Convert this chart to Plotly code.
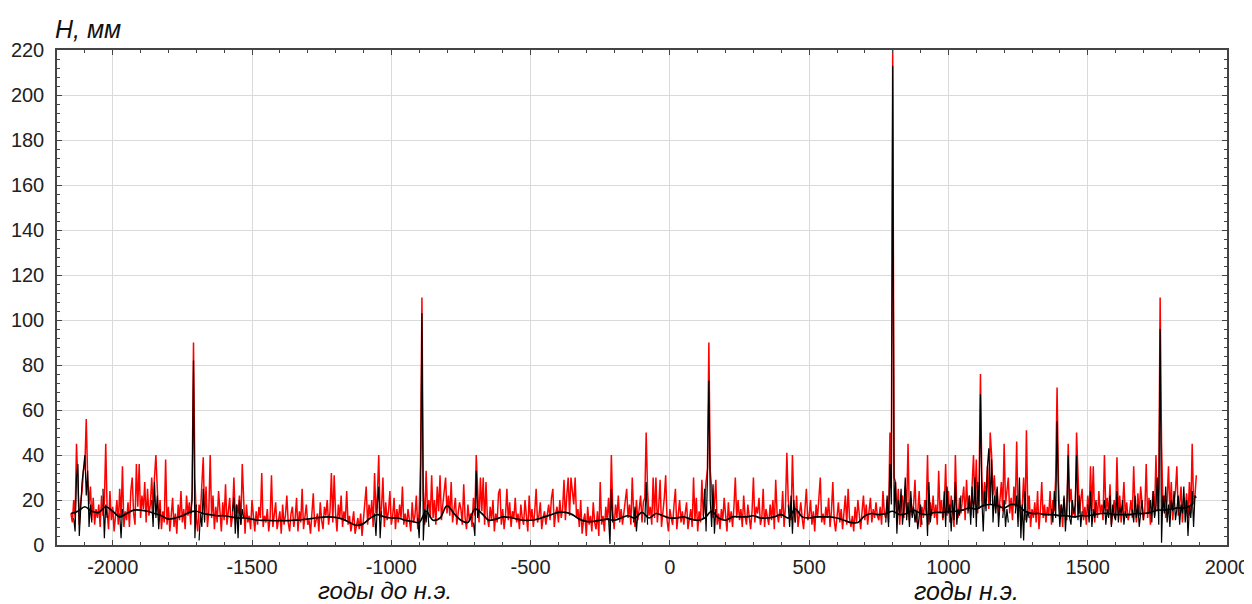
import numpy as np
import plotly.graph_objects as go

# ---------------- data ----------------
# Red series: one value every 5 years, starting in -2150 (rows = centuries)
red_start = -2150
red_step = 5
red_part1 = [  # -2150 .. -1155
    14,10,20,12,45,28,9,19,24,33,35,56,30,18,26,11,21,9,16,12,
    18,8,22,13,19,45,15,7,24,11,17,6,14,20,9,25,12,35,8,15,
    11,19,8,24,30,14,9,36,17,36,12,22,16,28,10,25,13,18,30,16,
    30,40,25,11,20,7,15,10,38,9,17,6,13,21,8,14,5,18,11,24,
    10,16,7,22,13,19,9,25,90,30,12,6,18,14,27,39,11,26,8,15,
    40,12,22,7,17,10,24,14,6,19,11,27,9,15,21,8,13,30,12,18,
    14,22,9,36,16,5,18,10,13,7,20,11,6,15,9,17,12,32,8,13,
    10,16,6,12,31,8,14,19,7,11,15,5,18,9,13,22,10,6,14,17,
    8,12,21,6,15,10,25,7,13,18,9,11,5,16,23,8,12,14,6,19,
    11,7,17,13,20,9,15,32,10,31,14,6,18,12,22,8,15,11,24,9,
]
red_part2 = [  # -1150 .. -155
    13,6,10,15,5,9,12,7,14,4,11,16,26,9,18,12,20,8,32,14,
    22,40,12,17,30,8,19,11,15,24,9,13,21,7,16,10,18,12,26,9,
    14,8,16,11,6,19,10,13,22,7,15,36,110,24,9,33,16,20,12,31,
    12,20,9,26,15,31,11,18,24,30,14,22,13,28,10,17,21,9,15,19,
    16,9,27,12,7,18,11,14,8,21,13,40,25,10,30,15,30,9,28,12,
    8,17,11,20,6,14,10,23,25,9,16,7,13,25,11,19,8,15,12,21,
    10,14,7,18,12,9,20,13,6,22,11,16,8,15,25,10,13,19,7,12,
    15,9,13,18,11,21,25,8,14,17,10,20,12,16,29,11,22,30,13,30,
    24,18,30,12,16,8,20,5,11,14,4,17,9,13,6,19,10,7,15,4,
    28,9,13,6,17,11,21,8,40,15,7,18,12,22,10,16,9,14,19,25,
]
red_part3 = [  # -150 .. 845
    12,18,9,30,14,8,20,11,16,22,10,19,21,50,24,13,17,9,30,12,
    30,10,17,29,8,14,21,31,11,6,16,12,9,18,25,7,13,20,10,15,
    9,14,19,7,12,16,8,30,11,21,6,15,10,29,13,22,28,34,90,33,
    25,12,18,29,9,14,7,16,11,21,13,6,19,10,15,8,17,30,12,20,
    11,16,8,22,13,9,18,12,7,15,30,10,17,14,21,9,12,25,8,16,
    13,9,18,11,20,7,29,14,10,16,12,24,8,17,41,20,15,11,40,18,
    10,22,8,14,19,12,7,16,25,11,13,20,9,15,6,18,12,21,30,10,
    14,9,17,12,21,8,15,28,11,6,13,19,10,16,7,14,22,9,25,12,
    8,13,6,17,10,20,12,7,15,22,11,18,9,14,21,10,16,12,19,13,
    11,17,9,24,14,12,20,10,50,25,220,30,28,13,25,9,19,22,12,26,
]
red_part4 = [  # 850 .. 1890
    16,45,11,21,13,18,29,10,15,24,8,17,12,20,14,40,9,19,13,22,
    12,18,9,33,14,20,11,16,36,13,24,10,22,15,8,40,17,12,21,14,
    19,26,11,29,15,22,13,30,40,18,38,14,27,76,30,17,28,21,35,16,
    50,40,22,31,16,25,13,20,28,15,45,18,24,30,14,21,11,26,17,46,
    13,20,9,17,30,11,51,14,22,8,16,12,19,10,24,7,15,28,12,18,
    10,17,13,24,9,20,15,30,70,28,12,18,8,21,14,11,45,19,25,13,
    16,12,50,30,14,20,25,11,17,9,22,13,35,15,35,10,19,12,24,14,
    18,11,40,15,21,13,27,9,16,20,12,39,14,22,10,17,28,13,19,11,
    14,20,12,35,16,10,23,13,26,18,11,15,36,12,21,9,17,24,13,40,
    15,25,110,45,17,22,12,20,35,14,28,11,19,24,35,13,18,26,10,21,
    16,23,12,28,14,45,18,22,31,
]

# Black series: shown only in some intervals (start year, 5-year values)
black_starts = [-2140, -2035, -1975, -1860, -1720, -1690, -1570, -1060, -905,
                -705, -220, -130, -90, 120, 425, 775, 920, 980, 1070, 1195,
                1240, 1370, 1500, 1555, 1660, 1720]
black_values = [
    [12,6,30,36,4,20,28,34,40,22,33,8,18,10],
    [25,3,18,12],
    [14,3,16],
    [20,8,28,12,22,7,16],
    [14,20,82,3,18],
    [2,14,8,25,10],
    [15,21,5,18,3,20,9,16,12],
    [14,4,18,26,3,15],
    [12,3,20,103,2,16,10,18,8],
    [10,4,33,12,16],
    [12,0.5,25,10],
    [10,17,6,14],
    [10,28,9],
    [12,25,6,30,73,20,8,27,5,16],
    [18,8,22,5,20,10],
    [10,22,8,36,18,213,12,28,5,20,14,25,9,16,30,11,19,8,24,12,17,10,15,7,13,18,9],
    [20,4,28,10,16],
    [12,24,8,26,14,18,6,20,11,28,9,16,13,22],
    [14,22,9,26,12,30,8,28,16,67,20,6,24,15,35,43,18,38,10,22,14,26,8,18],
    [12,20,8,16,10],
    [14,22,8,30,3,18,2,24,10,15,12],
    [16,10,24,12,55,20,8,18,13,22,6,17,40,12,9,20,14,18,40,11,22,8,15],
    [18,10,24,8,16,12,20],
    [14,20,9,16,12,22,8,18,13,11,24,10,17,14,20,9,15,12],
    [16,10,22,12,18,8,14,20,11],
    [14,20,10,24,12,18,30,9,96,1,22,14,26,10,18,8,20,15,24,11,16,22,9,18,14,26,10,20,4,17,12,24,8,22,21],
]

# Smoothed curve: one value every 25 years from -2150
smooth_start = -2150
smooth_step = 25
smooth_vals = [
    14,15,17,15,14.5,17,15,12.5,
    14,15.5,15.5,15,14,13,11.5,12,
    13,14.5,15,14,13.5,13,13,12.5,
    12,12,11.5,11,11,10.8,10.8,10.8,
    11,11.2,11.5,12,12.3,12.5,12.3,11.5,
    10,8.7,9.5,12,13.5,12.5,12,12,
    11,10.5,10,15,11,12,17.5,14,
    11,10,16,14,11,11.5,12.5,12.3,
    11.5,11,11,11.5,12.5,13.5,14.5,14.5,
    13.5,11.5,10.5,10.5,11,11.5,11,12,
    13,12,14.5,12,14,13,12,12,
    12.5,11.5,11,12,15,12,11,12.5,
    12.5,12.5,13,12,12,12.5,13.5,12,
    16,12.5,12,12.5,12.5,12.5,12,11,
    10,10,13,14,13.5,14,15,13.5,
    14,15.5,14,13.5,14.5,14.5,14.8,15,
    15.5,16.5,16,17.5,18,17.5,16.5,18,
    17.5,15,14,14,13.5,13.5,13,13,
    12.5,13,13,13.5,14,14,13.5,13.5,
    13.5,14,14,14.5,15.5,15.5,16,16.5,
    16.5,18,
]

x_tick_vals = [-2000, -1500, -1000, -500, 0, 500, 1000, 1500, 2000]
x_tick_text = ["-2000", "-1500", "-1000", "-500", "0", "500", "1000", "1500", "2000"]
y_tick_vals = [0, 20, 40, 60, 80, 100, 120, 140, 160, 180, 200, 220]

# ---------------- build traces ----------------
red_vals = red_part1 + red_part2 + red_part3 + red_part4
red_x = red_start + red_step * np.arange(len(red_vals))

bx, by = [], []
for s, vals in zip(black_starts, black_values):
    bx.extend(list(s + 5 * np.arange(len(vals))))
    by.extend(vals)
    bx.append(None)
    by.append(None)

sm_x = smooth_start + smooth_step * np.arange(len(smooth_vals))

fig = go.Figure()
fig.add_trace(go.Scatter(x=red_x, y=red_vals, mode="lines",
                         line=dict(color="#ff0000", width=1.5), hoverinfo="skip"))
fig.add_trace(go.Scatter(x=bx, y=by, mode="lines", connectgaps=False,
                         line=dict(color="#000000", width=1.2), hoverinfo="skip"))
fig.add_trace(go.Scatter(x=sm_x, y=smooth_vals, mode="lines",
                         line=dict(color="#000000", width=1.7, shape="spline"),
                         hoverinfo="skip"))

font_family = "Liberation Sans, Arial, sans-serif"
# the page body has an 8px margin, so the figure is drawn 8px right/down
fig.update_layout(
    width=1244, height=596,
    margin=dict(l=49, r=25, t=42, b=59),
    paper_bgcolor="white", plot_bgcolor="white",
    showlegend=False,
    font=dict(family=font_family, size=20, color="#222"),
    xaxis=dict(range=[-2200, 2000], tickvals=x_tick_vals, ticktext=x_tick_text,
               automargin=False,
               showgrid=True, gridcolor="#dadada", gridwidth=1,
               zeroline=False, showline=True, linecolor="#444", linewidth=1.5,
               mirror="ticks", ticks="inside", ticklen=5, tickcolor="#444",
               minor=dict(ticks="inside", dtick=100, tick0=0, ticklen=3,
                          tickcolor="#444", showgrid=False),
               tickfont=dict(size=20, color="#222"), ticklabelstandoff=3),
    yaxis=dict(range=[0, 220], tickvals=y_tick_vals,
               automargin=False,
               showgrid=True, gridcolor="#dadada", gridwidth=1,
               zeroline=False, showline=True, linecolor="#444", linewidth=1.5,
               mirror="ticks", ticks="inside", ticklen=5, tickcolor="#444",
               minor=dict(ticks="inside", dtick=4, tick0=0, ticklen=3,
                          tickcolor="#444", showgrid=False),
               tickfont=dict(size=20, color="#222"), ticklabelstandoff=7),
    annotations=[
        dict(text="<i>H, мм</i>", xref="paper", yref="paper", x=-0.003, y=1.0,
             xanchor="left", yanchor="bottom", yshift=5, showarrow=False,
             font=dict(size=25, color="#111", family=font_family)),
        dict(text="<i>годы до н.э.</i>",
             xref="x", yref="paper", x=-1023, y=0, xanchor="center", yanchor="top",
             yshift=-30, showarrow=False,
             font=dict(size=24, color="#111", family=font_family)),
        dict(text="<i>годы н.э.</i>", xref="x", yref="paper", x=1066, y=0,
             xanchor="center", yanchor="top", yshift=-30, showarrow=False,
             font=dict(size=25, color="#111", family=font_family)),
    ],
)

fig.write_html("out.html")
